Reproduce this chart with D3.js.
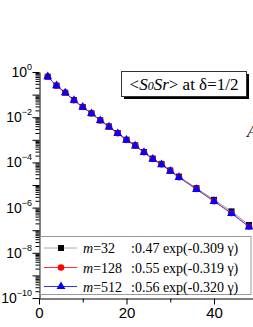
<!DOCTYPE html>
<html>
<head>
<meta charset="utf-8">
<script src="https://cdn.jsdelivr.net/npm/d3@7"></script>
<style>
  body { margin: 0; background: #fff; }
  svg { display: block; }
</style>
</head>
<body>
<div id="chart"></div>
<script>
// distances r and correlation values
var dist = [2, 4, 6, 8, 10, 12, 14, 16, 18, 20, 22, 24, 26, 28, 30, 32, 36, 40, 44, 48];
var m32 = [0.62, 0.25, 0.121, 0.057, 0.0285, 0.0148, 0.0073, 0.0039, 0.002, 0.00101, 0.00057, 0.00029, 0.000148, 0.000086, 0.000044, 0.0000235, 0.0000072, 0.0000022, 0.00000068, 0.00000017];
var m128 = [0.62, 0.25, 0.12, 0.056, 0.0282, 0.0146, 0.0072, 0.0038, 0.00195, 0.00098, 0.00055, 0.00028, 0.000142, 0.000082, 0.0000422, 0.0000222, 0.0000066, 0.00000193, 0.00000057, 0.000000145];
var m512 = [0.62, 0.25, 0.12, 0.056, 0.028, 0.0145, 0.0071, 0.0037, 0.0019, 0.00096, 0.00054, 0.000275, 0.000139, 0.00008, 0.0000412, 0.0000216, 0.0000064, 0.00000188, 0.00000055, 0.00000014];
var legendLabels = ["32", "128", "512"];
var legendFits = [":0.47 exp(-0.309 \u03b3)", ":0.55 exp(-0.319 \u03b3)", ":0.56 exp(-0.320 \u03b3)"];
var xTicks = [0, 20, 40];
var xMinor = [10, 30];
var yLabelExp = [0, -2, -4, -6, -8, -10];

var svgWidth = 253, svgHeight = 327;

var svg = d3.select("#chart").append("svg")
    .attr("width", svgWidth)
    .attr("height", svgHeight);

var x = d3.scaleLinear().domain([0, 50]).range([39, 257.75]);
var y = d3.scaleLog().domain([1e-10, 1]).range([298, 72]);

// y axis: decades, then minor ticks
var decades = d3.range(0, -11, -1).map(function(e) { return Math.pow(10, e); });
var minors = [];
decades.slice(1).forEach(function(d) {
    for (var k = 2; k <= 9; k++) minors.push(d * k);
});

var yAxis = svg.append("g").attr("transform", "translate(39.5,0)");
yAxis.call(d3.axisLeft(y).tickValues(decades).tickSize(7).tickSizeOuter(0).tickFormat(""));
svg.append("g").attr("transform", "translate(39.5,0)")
    .call(d3.axisLeft(y).tickValues(minors).tickSize(4).tickSizeOuter(0).tickFormat(""))
    .select(".domain").remove();

var yl = svg.append("g").attr("font-family", "Liberation Sans, Arial, sans-serif").attr("fill", "#000");
yLabelExp.forEach(function(e) {
    var t = yl.append("text")
        .attr("x", 32)
        .attr("y", y(Math.pow(10, e)) + 5)
        .attr("text-anchor", "end");
    t.append("tspan").attr("font-size", 14).text("10");
    t.append("tspan").attr("font-size", 9).attr("dy", -7).text(e === 0 ? "0" : "\u2212" + (-e));
});

// x axis
var xAxis = svg.append("g").attr("transform", "translate(0,298.5)");
xAxis.call(d3.axisBottom(x).tickValues(xTicks).tickSize(6).tickSizeOuter(0).tickPadding(3));
svg.append("g").attr("transform", "translate(0,298.5)")
    .call(d3.axisBottom(x).tickValues(xMinor).tickSize(4).tickFormat(""))
    .select(".domain").remove();
xAxis.selectAll("text")
    .attr("font-family", "Liberation Sans, Arial, sans-serif")
    .attr("font-size", 15)
    .attr("fill", "#000");
svg.selectAll(".domain, .tick line").attr("stroke", "#000");

// data lines and markers
var series = [
    { vals: m32, line: "#777", color: "#000", shape: d3.symbolSquare, size: 36 },
    { vals: m128, line: "#ff3030", color: "#ff0000", shape: d3.symbolCircle, size: 34 },
    { vals: m512, line: "#3030ff", color: "#0000ff", shape: d3.symbolTriangle, size: 34 }
];

var line = d3.line()
    .x(function(d, i) { return x(dist[i]); })
    .y(function(d) { return y(d); });

series.forEach(function(s) {
    svg.append("path")
        .datum(s.vals)
        .attr("d", line)
        .attr("fill", "none")
        .attr("stroke", s.line)
        .attr("stroke-width", 0.8);
});
series.forEach(function(s) {
    svg.append("g").selectAll("path")
        .data(s.vals)
        .enter()
        .append("path")
        .attr("transform", function(d, i) { return "translate(" + x(dist[i]) + "," + y(d) + ")"; })
        .attr("d", d3.symbol().type(s.shape).size(s.size))
        .attr("fill", s.color);
});

// title box with shadow
svg.append("rect").attr("x", 124).attr("y", 74).attr("width", 125).attr("height", 25).attr("fill", "#000");
svg.append("rect").attr("x", 121.5).attr("y", 71.5).attr("width", 125).attr("height", 25)
    .attr("fill", "#fff").attr("stroke", "#333").attr("stroke-width", 1);
var title = svg.append("text")
    .attr("x", 184).attr("y", 90)
    .attr("text-anchor", "middle")
    .attr("font-family", "Liberation Serif, Times New Roman, serif")
    .attr("font-size", 17)
    .attr("fill", "#000");
title.append("tspan").text("<");
title.append("tspan").attr("font-style", "italic").text("S");
title.append("tspan").attr("font-style", "italic").attr("font-size", 12).text("0");
title.append("tspan").attr("font-style", "italic").text("Sr");
title.append("tspan").text("> at \u03b4=1/2");

// partly hidden label on the right edge
svg.append("text").attr("x", 247).attr("y", 137)
    .attr("font-family", "Liberation Serif, Times New Roman, serif")
    .attr("font-style", "italic").attr("font-size", 17).text("A");

// legend
svg.append("rect").attr("x", 40.5).attr("y", 236.5).attr("width", 210.5).attr("height", 58)
    .attr("fill", "#fff").attr("stroke", "#999").attr("stroke-width", 1);
var rowY = [248, 267.5, 286.5];
series.forEach(function(s, i) {
    var g = svg.append("g").attr("transform", "translate(0," + rowY[i] + ")");
    g.append("line").attr("x1", 44).attr("x2", 77).attr("y1", 0).attr("y2", 0)
        .attr("stroke", i === 0 ? "#aaa" : s.line).attr("stroke-width", 1);
    g.append("path").attr("transform", "translate(61,0)")
        .attr("d", d3.symbol().type(s.shape).size(s.size)).attr("fill", s.color);
    var t = g.append("text").attr("x", 83).attr("y", 5)
        .attr("font-family", "Liberation Serif, Times New Roman, serif")
        .attr("font-size", 14).attr("fill", "#000");
    t.append("tspan").attr("font-style", "italic").text("m");
    t.append("tspan").text("=" + legendLabels[i]);
    g.append("text").attr("x", 131).attr("y", 5)
        .attr("font-family", "Liberation Serif, Times New Roman, serif")
        .attr("font-size", 14).attr("fill", "#000")
        .text(legendFits[i]);
});
</script>
</body>
</html>
